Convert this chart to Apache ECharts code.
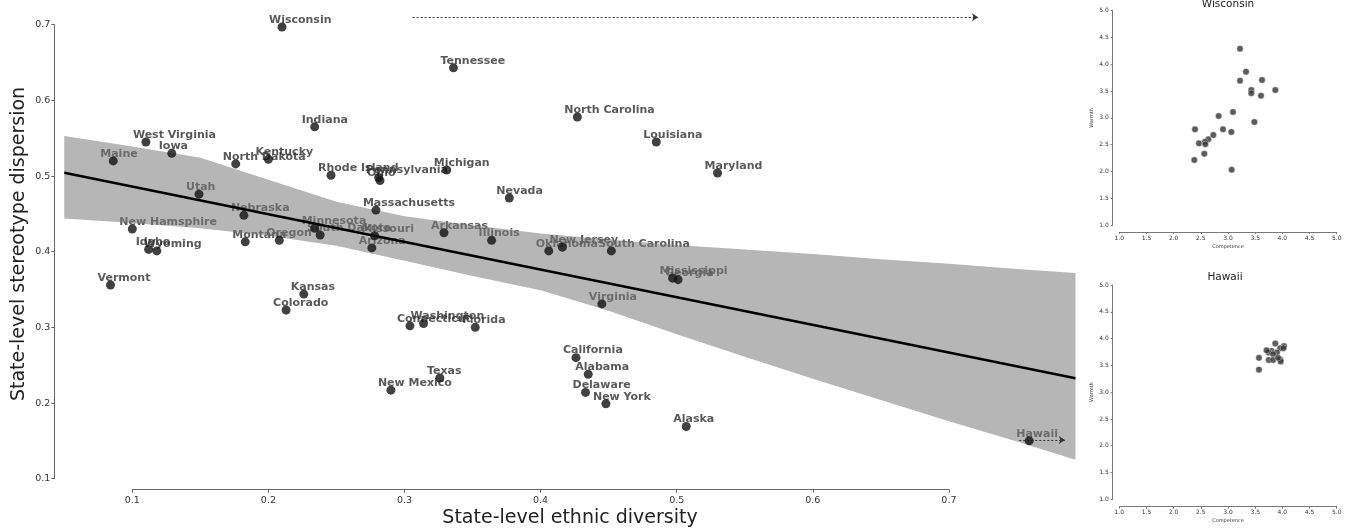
<!DOCTYPE html>
<html><head><meta charset="utf-8">
<script src="https://cdn.jsdelivr.net/npm/echarts@6/dist/echarts.min.js"></script>
<style>html,body{margin:0;padding:0;background:#fff;}#c{width:1355px;height:530px;}</style>
</head><body><div id="c"></div>
<script>
// ---- main scatter: state-level data ----
const states = ['Wisconsin','Tennessee','North Carolina','Louisiana','Maryland','Indiana','West Virginia','Iowa','Maine','North Dakota','Kentucky','Rhode Island','Pennsylvania','Ohio','Michigan','Nevada','Utah','Massachusetts','Nebraska','New Hamsphire','Minnesota','South Dakota','Missouri','Arizona','Arkansas','Illinois','Montana','Oregon','Idaho','Wyoming','Vermont','Oklahoma','New Jersey','South Carolina','Mississippi','Georgia','Virginia','Kansas','Colorado','Connecticut','Washington','Florida','California','Alabama','Texas','New Mexico','Delaware','New York','Alaska','Hawaii'];
const diversity = [0.210,0.336,0.427,0.485,0.530,0.234,0.110,0.129,0.086,0.176,0.200,0.246,0.281,0.282,0.331,0.377,0.149,0.279,0.182,0.100,0.234,0.238,0.278,0.276,0.329,0.364,0.183,0.208,0.112,0.118,0.084,0.406,0.416,0.452,0.497,0.501,0.445,0.226,0.213,0.304,0.314,0.352,0.426,0.435,0.326,0.290,0.433,0.448,0.507,0.759];
const dispersion = [0.697,0.643,0.578,0.545,0.504,0.565,0.545,0.530,0.520,0.516,0.522,0.501,0.498,0.494,0.508,0.471,0.476,0.455,0.448,0.430,0.431,0.422,0.421,0.405,0.425,0.415,0.413,0.415,0.403,0.401,0.356,0.401,0.406,0.401,0.365,0.363,0.331,0.344,0.323,0.302,0.305,0.300,0.260,0.238,0.233,0.217,0.214,0.199,0.169,0.150];

// regression fit and confidence band
const fitX = [0.05, 0.793];
const fitY = [0.5044, 0.2327];
const bandX = [0.05,0.10,0.15,0.20,0.25,0.30,0.35,0.40,0.45,0.50,0.55,0.60,0.65,0.70,0.75,0.793];
const bandUpper = [0.553,0.539,0.524,0.495,0.466,0.447,0.435,0.424,0.416,0.409,0.403,0.397,0.390,0.384,0.377,0.372];
const bandLower = [0.444,0.438,0.431,0.421,0.408,0.388,0.368,0.349,0.322,0.291,0.261,0.232,0.204,0.176,0.149,0.125];

// main axis ticks
const mainTicks = [0.1,0.2,0.3,0.4,0.5,0.6,0.7];

// annotation arrows (data coords)
const arrowTopX = [0.306, 0.7214];
const arrowTopY = 0.7097;
const arrowHawaiiX = [0.7517, 0.7852];
const arrowHawaiiY = 0.1511;

// ---- inset: Wisconsin ----
const wiCompetence = [3.221,3.331,3.221,3.626,3.429,3.871,3.429,3.607,3.092,2.828,3.485,2.393,2.908,3.061,2.730,2.638,2.466,2.577,2.583,2.564,2.380,3.067];
const wiWarmth     = [4.291,3.862,3.694,3.706,3.519,3.519,3.457,3.414,3.109,3.034,2.922,2.785,2.785,2.736,2.680,2.599,2.524,2.555,2.505,2.331,2.213,2.033];
// ---- inset: Hawaii ----
const hiCompetence = [3.57,3.57,3.87,4.03,3.96,4.02,3.80,3.75,3.90,3.83,3.75,3.83,3.96,3.97,3.71,3.92];
const hiWarmth     = [3.64,3.42,3.91,3.86,3.82,3.82,3.77,3.74,3.74,3.71,3.60,3.60,3.61,3.57,3.78,3.64];
const insetTicks = [1.0,1.5,2.0,2.5,3.0,3.5,4.0,4.5,5.0];

const FONT = '"DejaVu Sans", "Liberation Sans", sans-serif';
const chart = echarts.init(document.getElementById('c'), null, {renderer:'canvas'});

const mainAxisStyle = {
  axisLine:{show:true, lineStyle:{color:'#666', width:1}},
  axisTick:{show:true, length:3, lineStyle:{color:'#666'}},
  splitLine:{show:false}
};
function insetAxis(extra){
  return Object.assign({
    type:'value', min:insetTicks[0], max:insetTicks[insetTicks.length-1], interval:0.5,
    axisLine:{show:true, lineStyle:{color:'#777', width:1}},
    axisTick:{show:true, length:2, lineStyle:{color:'#777'}},
    splitLine:{show:false},
    nameLocation:'middle',
    nameTextStyle:{fontSize:5, fontFamily:FONT, color:'#333'},
    axisLabel:{fontSize:6, fontFamily:FONT, color:'#333', formatter:v=>v.toFixed(1)}
  }, extra);
}

const option = {
  animation:false,
  backgroundColor:'#fff',
  grid:[
    {left:50.64, right:270, top:9.55, bottom:36.17, outerBoundsMode:'none'},   // data grid
    {left:132.3, right:406.1, top:24.7, bottom:51.3, outerBoundsMode:'none'},  // main axes
    {left:1119.3, right:18.3, top:10.7, bottom:305, outerBoundsMode:'none'},   // Wisconsin
    {left:1119.3, right:18.3, top:285, bottom:30.7, outerBoundsMode:'none'}    // Hawaii
  ],
  xAxis:[
    {gridIndex:0, type:'value', min:0.04, max:0.80, show:false},
    Object.assign({gridIndex:1, type:'value', min:mainTicks[0], max:mainTicks[mainTicks.length-1], interval:0.1, offset:11,
      axisLabel:{fontSize:9.5, fontFamily:FONT, color:'#333', margin:6, formatter:v=>v.toFixed(1)}}, mainAxisStyle),
    insetAxis({gridIndex:2, offset:7, name:'Competence', nameGap:12, axisLabel:{fontSize:6, fontFamily:FONT, color:'#333', margin:3, formatter:v=>v.toFixed(1)}}),
    insetAxis({gridIndex:3, offset:7.4, name:'Competence', nameGap:12, axisLabel:{fontSize:6, fontFamily:FONT, color:'#333', margin:3, formatter:v=>v.toFixed(1)}})
  ],
  yAxis:[
    {gridIndex:0, type:'value', min:0.08, max:0.72, show:false},
    Object.assign({gridIndex:1, type:'value', min:mainTicks[0], max:mainTicks[mainTicks.length-1], interval:0.1, offset:78,
      axisLabel:{fontSize:9.5, fontFamily:FONT, color:'#333', margin:4, formatter:v=>v.toFixed(1)}}, mainAxisStyle),
    insetAxis({gridIndex:2, offset:6.6, name:'Warmth', nameGap:18, axisLabel:{fontSize:6, fontFamily:FONT, color:'#333', margin:4, formatter:v=>v.toFixed(1)}}),
    insetAxis({gridIndex:3, offset:6.6, name:'Warmth', nameGap:18, axisLabel:{fontSize:6, fontFamily:FONT, color:'#333', margin:4, formatter:v=>v.toFixed(1)}})
  ],
  series:[
    { // state labels (drawn beneath the CI band)
      type:'scatter', xAxisIndex:0, yAxisIndex:0, z:1, silent:true,
      symbolSize:9, itemStyle:{color:'rgba(0,0,0,0)'},
      data: states.map((s,i)=>({name:s, value:[diversity[i], dispersion[i]]})),
      label:{show:true, position:'top', distance:0, align:'left', offset:[-13,3],
        formatter:p=>p.name, fontFamily:FONT, fontWeight:'bold', fontSize:11, color:'#303030'}
    },
    { // confidence band
      type:'custom', xAxisIndex:0, yAxisIndex:0, z:2, silent:true,
      data: bandX.map((x,i)=>[x, bandLower[i], bandUpper[i]]),
      encode:{x:0, y:[1,2]},
      renderItem:function(params, api){
        if (params.dataIndex !== 0) return null;
        const up = bandX.map((x,i)=>api.coord([x, bandUpper[i]]));
        const lo = bandX.map((x,i)=>api.coord([x, bandLower[i]])).reverse();
        return {type:'polygon', shape:{points: up.concat(lo)}, style:{fill:'rgba(122,122,122,0.55)'}};
      }
    },
    { // regression line
      type:'line', xAxisIndex:0, yAxisIndex:0, z:3, silent:true, symbol:'none',
      data: fitX.map((x,i)=>[x, fitY[i]]),
      lineStyle:{color:'#000', width:2.5}
    },
    { // state points
      type:'scatter', xAxisIndex:0, yAxisIndex:0, z:4, silent:true,
      symbolSize:9, itemStyle:{color:'#111'},
      data: states.map((s,i)=>[diversity[i], dispersion[i]])
    },
    { // arrows
      type:'lines', coordinateSystem:'cartesian2d', xAxisIndex:0, yAxisIndex:0, z:3, silent:true,
      symbol:['none','arrow'], symbolSize:6,
      lineStyle:{color:'#333', width:1, type:[2,2], opacity:1},
      data:[
        {coords:[[arrowTopX[0], arrowTopY],[arrowTopX[1], arrowTopY]]},
        {coords:[[arrowHawaiiX[0], arrowHawaiiY],[arrowHawaiiX[1], arrowHawaiiY]]}
      ]
    },
    { // Wisconsin inset
      type:'scatter', xAxisIndex:2, yAxisIndex:2, silent:true, symbolSize:6.5,
      itemStyle:{color:'#333', borderColor:'#fff', borderWidth:0.5},
      data: wiCompetence.map((c,i)=>[c, wiWarmth[i]])
    },
    { // Hawaii inset
      type:'scatter', xAxisIndex:3, yAxisIndex:3, silent:true, symbolSize:6.5,
      itemStyle:{color:'#333', borderColor:'#fff', borderWidth:0.5},
      data: hiCompetence.map((c,i)=>[c, hiWarmth[i]])
    }
  ],
  graphic:[
    {type:'text', x:19, y:244, rotation:Math.PI/2, silent:true,
      style:{text:'State-level stereotype dispersion', font:'19px '+FONT, fill:'#222', align:'center', verticalAlign:'middle'}},
    {type:'text', x:570, y:518, silent:true,
      style:{text:'State-level ethnic diversity', font:'19px '+FONT, fill:'#222', align:'center', verticalAlign:'middle'}},
    {type:'text', x:1228, y:4, silent:true,
      style:{text:'Wisconsin', font:'10.5px '+FONT, fill:'#222', align:'center', verticalAlign:'middle'}},
    {type:'text', x:1225, y:277, silent:true,
      style:{text:'Hawaii', font:'10.5px '+FONT, fill:'#222', align:'center', verticalAlign:'middle'}}
  ]
};
chart.setOption(option);
</script>
</body></html>
